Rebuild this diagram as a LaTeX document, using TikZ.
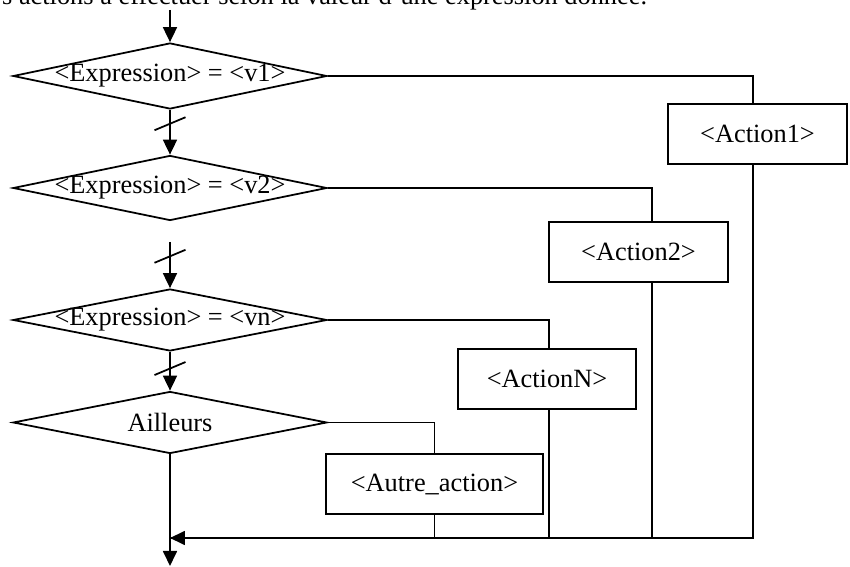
\documentclass[tikz,border=0pt]{standalone}
\usepackage{fontspec}
\setmainfont{Liberation Serif}
\usetikzlibrary{shapes.geometric,arrows.meta,decorations.markings}

\begin{document}
\begin{tikzpicture}[x=0.02cm,y=-0.02cm,line width=1pt,
  font=\fontsize{15pt}{18pt}\selectfont,
  >={Triangle[length=0.3cm,width=0.28cm]},
  test/.style={draw,shape=diamond,aspect=4.8,minimum width=6.28cm,minimum height=1.3cm,inner xsep=-1.2cm,inner ysep=0pt},
  action/.style={draw,shape=rectangle,minimum width=3.58cm,minimum height=1.2cm,inner sep=0pt},
  barre/.style={postaction={decorate},decoration={markings,mark=at position #1 with {\draw[-] (0.13cm,-0.31cm) -- (-0.13cm,0.31cm);}}}]

  \useasboundingbox (0,0) rectangle (850,567);
  \clip (0,0) rectangle (850,567);

  % line of text cut by the top edge
  \node[anchor=base east,inner sep=0pt] (intro) at (648,5) {s actions à effectuer selon la valeur d'une expression donnée.};

  % Specification of nodes (position, etc.)
  \node[test,minimum height=1.32cm] (c1) at (170,76) {<Expression> = <v1>};
  \node[test] (c2) at (170,188) {<Expression> = <v2>};
  \node[test,minimum height=1.24cm] (c3) at (170,320) {<Expression> = <vn>};
  \node[test,minimum height=1.24cm] (c4) at (170,422.5) {Ailleurs};

  \node[action] (a1) at (757.5,134) {<Action1>};
  \node[action] (a2) at (638.5,252) {<Action2>};
  \node[action,minimum width=3.56cm] (an) at (547,379) {<ActionN>};
  \node[action,minimum width=4.34cm] (autre) at (434.5,484) {<Autre\_action>};

  \coordinate (entree) at (170,10);
  \coordinate (reprise) at (170,242);
  \coordinate (jonction) at (170,538);
  \coordinate (sortie) at (170,566);

  \begin{scope}[->]
    \draw (entree) -- (c1);
    \draw[barre=0.31] (c1) -- (c2);
    \draw[barre=0.31] (reprise) -- (c3);
    \draw[barre=0.43] (c3) -- (c4);
    \draw (c4) -- (sortie);
    \draw ([xshift=-0.09cm]a1.south) |- (jonction);
  \end{scope}

  \begin{scope}[-]
    \draw (c1.east) -| ([xshift=-0.09cm]a1.north);
    \draw (c2.east) -| ([xshift=0.27cm]a2.north);
    \draw (c3.east) -| ([xshift=0.04cm]an.north);
    \draw (c4.east) -| (autre.north);
    \draw ([xshift=0.27cm]a2.south) |- (jonction);
    \draw ([xshift=0.04cm]an.south) |- (jonction);
    \draw (autre.south) |- (jonction);
  \end{scope}

\end{tikzpicture}
\end{document}
